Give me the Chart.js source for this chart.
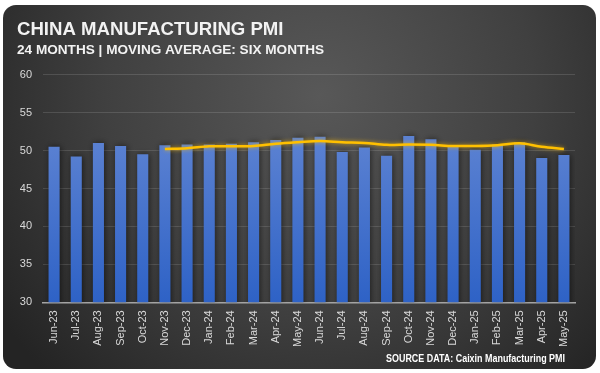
<!DOCTYPE html>
<html>
<head>
<meta charset="utf-8">
<title>China Manufacturing PMI</title>
<script src="https://cdn.jsdelivr.net/npm/chart.js@4.4.1/dist/chart.umd.min.js"></script>
<style>
    html, body { margin: 0; padding: 0; background: #fff; }
    #wrap { position: relative; width: 600px; height: 373px; }
</style>
</head>
<body>
<div id="wrap"><canvas id="pmiChart" width="600" height="373"></canvas></div>
<script>
// ── Data ──
const months = ['Jun-23', 'Jul-23', 'Aug-23', 'Sep-23', 'Oct-23', 'Nov-23', 'Dec-23', 'Jan-24',
    'Feb-24', 'Mar-24', 'Apr-24', 'May-24', 'Jun-24', 'Jul-24', 'Aug-24', 'Sep-24',
    'Oct-24', 'Nov-24', 'Dec-24', 'Jan-25', 'Feb-25', 'Mar-25', 'Apr-25', 'May-25'];
const pmiValues = [50.5, 49.2, 51.0, 50.6, 49.5, 50.7, 50.8, 50.8,
    50.9, 51.1, 51.4, 51.7, 51.8, 49.8, 50.4, 49.3,
    51.9, 51.5, 50.5, 50.1, 50.8, 51.1, 49.0, 49.4];
const movingAvg = [null, null, null, null, null, 50.2, 50.3, 50.55,
    50.55, 50.6, 50.9, 51.1, 51.25, 51.1, 51.0, 50.75,
    50.8, 50.75, 50.6, 50.6, 50.7, 50.95, 50.5, 50.2];
const yTicks = { min: 30, max: 60, step: 5 };

const titleText = 'CHINA MANUFACTURING PMI';
const subtitleText = '24 MONTHS | MOVING AVERAGE: SIX MONTHS';
const sourceText = 'SOURCE DATA: Caixin Manufacturing PMI';

const FONT = '"Liberation Sans", Arial, sans-serif';
const LABEL_COLOR = '#d9d9d9';

// ── Card background: rounded dark panel with a soft light spot ──
const cardBackground = {
    id: 'cardBackground',
    beforeDraw(chart) {
        const { ctx, width, height } = chart;
        ctx.save();
        ctx.fillStyle = '#ffffff';
        ctx.fillRect(0, 0, width, height);
        const x = 3, y = 5, w = 593, h = 364, r = 13;
        const g = ctx.createRadialGradient(320, 95, 0, 320, 95, 390);
        g.addColorStop(0, '#585858');
        g.addColorStop(0.55, '#404040');
        g.addColorStop(1, '#242424');
        ctx.beginPath();
        ctx.roundRect(x, y, w, h, r);
        ctx.fillStyle = g;
        ctx.fill();
        ctx.restore();
    },
    afterDraw(chart) {
        // source note, bottom right
        const { ctx } = chart;
        ctx.save();
        ctx.font = 'bold 10px ' + FONT;
        ctx.fillStyle = '#ffffff';
        ctx.textAlign = 'right';
        ctx.textBaseline = 'middle';
        ctx.fillText(sourceText, 565, 359, 179);
        ctx.restore();
    }
};

// ── Shadows: dark halo for bars, soft glow for the average line ──
const markShadows = {
    id: 'markShadows',
    beforeDatasetDraw(chart, args) {
        const ctx = chart.ctx;
        ctx.save();
        if (args.meta.type === 'bar') {
            ctx.shadowColor = 'rgba(0,0,0,0.55)';
            ctx.shadowBlur = 6;
            ctx.shadowOffsetX = 1;
        } else {
            ctx.shadowColor = 'rgba(255,190,0,0.7)';
            ctx.shadowBlur = 4;
        }
    },
    afterDatasetDraw(chart) {
        chart.ctx.restore();
    }
};

function barGradient(context) {
    const { chart } = context;
    const { ctx, chartArea, scales } = chart;
    if (!chartArea) return '#4472c4';
    const top = scales.y.getPixelForValue(52);
    const bottom = scales.y.getPixelForValue(30);
    const g = ctx.createLinearGradient(0, top, 0, bottom);
    g.addColorStop(0, '#5c82d2');
    g.addColorStop(1, '#2e62c6');
    return g;
}

function initChart() {
    const ctx = document.getElementById('pmiChart').getContext('2d');
    new Chart(ctx, {
        type: 'bar',
        data: {
            labels: months,
            datasets: [{
                type: 'line',
                label: 'Six Month Moving Average',
                data: movingAvg,
                borderColor: '#ffc000',
                borderWidth: 2.5,
                pointRadius: 0,
                tension: 0.35,
                spanGaps: false,
                order: 0
            }, {
                type: 'bar',
                label: 'PMI',
                data: pmiValues,
                backgroundColor: barGradient,
                borderWidth: 0,
                barPercentage: 0.5,
                categoryPercentage: 1,
                order: 1
            }]
        },
        options: {
            responsive: false,
            animation: false,
            layout: { padding: { left: 17, right: 25, top: 0, bottom: 18 } },
            plugins: {
                legend: { display: false },
                tooltip: { enabled: false },
                title: {
                    display: true,
                    text: titleText,
                    align: 'start',
                    color: '#f2f2f2',
                    font: { family: FONT, size: 18.6, weight: 'bold' },
                    padding: { top: 19, bottom: 0 }
                },
                subtitle: {
                    display: true,
                    text: subtitleText,
                    align: 'start',
                    color: '#f2f2f2',
                    font: { family: FONT, size: 13.6, weight: 'bold' },
                    padding: { top: 1, bottom: 16 }
                }
            },
            scales: {
                x: {
                    grid: { display: false, drawTicks: false },
                    border: { display: true, color: '#a6a6a6', width: 1.5 },
                    ticks: {
                        color: LABEL_COLOR,
                        font: { family: FONT, size: 11 },
                        minRotation: 90,
                        maxRotation: 90,
                        padding: 8,
                        autoSkip: false
                    }
                },
                y: {
                    min: yTicks.min,
                    max: yTicks.max,
                    afterFit: scale => { scale.width = 26; },
                    grid: {
                        color: 'rgba(255,255,255,0.13)',
                        lineWidth: 1,
                        drawTicks: false
                    },
                    border: { display: false },
                    ticks: {
                        stepSize: yTicks.step,
                        color: LABEL_COLOR,
                        font: { family: FONT, size: 11 },
                        padding: 11
                    }
                }
            }
        },
        plugins: [cardBackground, markShadows]
    });
}

document.addEventListener('DOMContentLoaded', initChart);
</script>
</body>
</html>
